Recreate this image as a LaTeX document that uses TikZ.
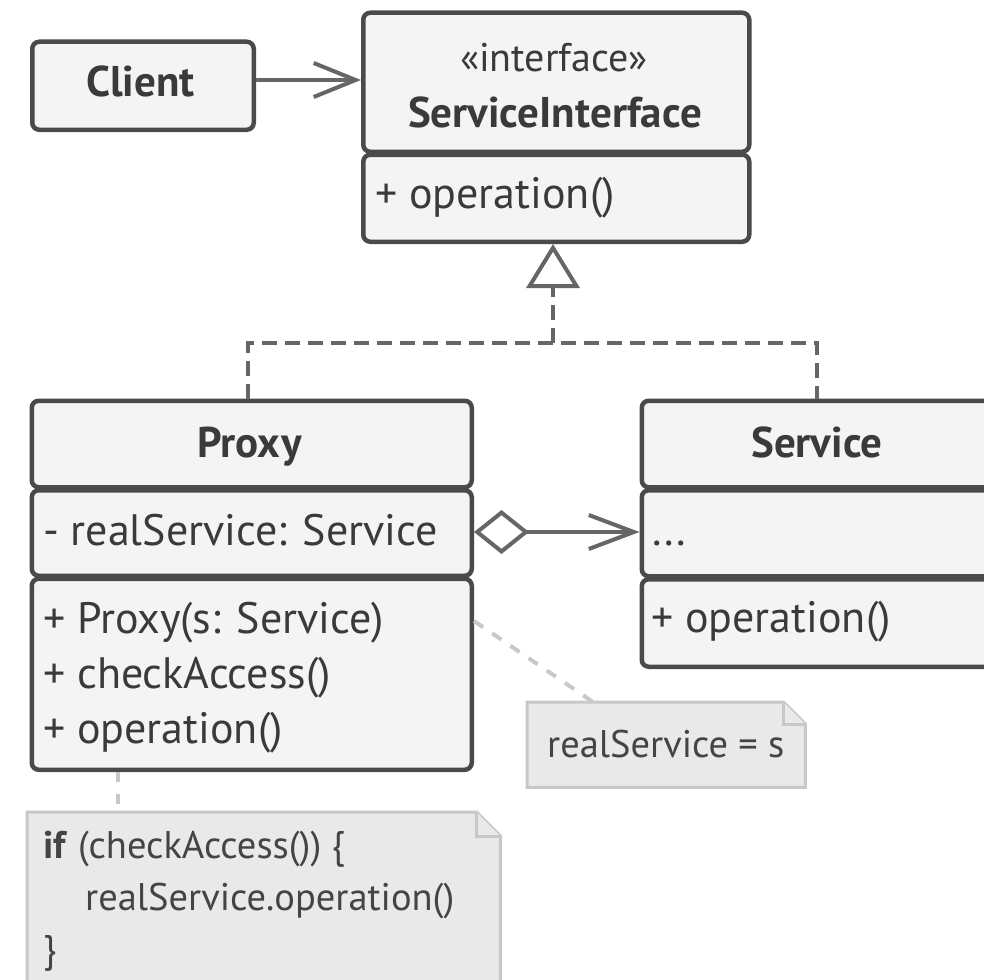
\documentclass[tikz,border=0pt]{standalone}
\usepackage{fontspec}
\setmainfont{PT Sans}
\usetikzlibrary{arrows.meta,calc}
\definecolor{boxc}{HTML}{4A4A4A}
\definecolor{boxf}{HTML}{F4F4F4}
\definecolor{linkc}{HTML}{666666}
\definecolor{txtc}{HTML}{3A3A3A}
\definecolor{notec}{HTML}{C8C8C8}
\definecolor{notef}{HTML}{E9E9E9}
\definecolor{notet}{HTML}{444444}
\tikzset{
  box/.style={draw=boxc, fill=boxf, line width=4.5pt, rounded corners=7pt,
    rectangle, inner sep=0pt, anchor=north west},
  txt/.style={inner sep=0pt, anchor=base west, text=txtc, font=\fontsize{44}{53}\selectfont},
  ttl/.style={inner sep=0pt, anchor=base, text=txtc, font=\fontsize{43}{52}\selectfont\bfseries},
  ntxt/.style={inner sep=0pt, anchor=base west, text=notet, font=\fontsize{38.5}{45}\selectfont},
  notearea/.style={rectangle, inner sep=0pt, anchor=north west},
  notestyle/.style={draw=notec, fill=notef, line width=3pt, line join=miter},
  notelink/.style={draw=notec, line width=4pt, dash pattern=on 11pt off 11pt},
  assoc/.style={draw=linkc, line width=4pt},
  realize/.style={draw=linkc, line width=4pt, dash pattern=on 15pt off 8pt},
}
\begin{document}
\begin{tikzpicture}[x=1pt,y=-1pt]
\useasboundingbox (0,0) rectangle (984,979);
\clip (0,0) rectangle (984,979);

% Client
\node[box, minimum width=221.5pt, minimum height=88pt] (client) at (30,39.5) {};
\node[ttl] (clientt) at (140.5,97) {Client};

% ServiceInterface
\node[box, minimum width=386pt, minimum height=139pt] (sih) at (361,10.5) {};
\node[box, minimum width=386pt, minimum height=87pt] (sim) at (361,152.5) {};
\node[inner sep=0pt, anchor=base, text=txtc, font=\fontsize{40}{48}\selectfont] (sis) at (554,72) {«interface»};
\node[ttl] (sit) at (555,128) {ServiceInterface};
\node[txt] (sio) at (375,208) {+ operation()};

% Proxy
\node[box, minimum width=440pt, minimum height=86.5pt] (ph) at (29.5,398.5) {};
\node[box, minimum width=440pt, minimum height=85.5pt] (pa) at (29.5,488) {};
\node[box, minimum width=440pt, minimum height=191pt] (pm) at (29.5,576.5) {};
\node[ttl] (pt) at (249.5,457) {Proxy};
\node[txt] (pat) at (43,545) {- realService: Service};
\node[txt] (pm1) at (43,633) {+ Proxy(s: Service)};
\node[txt] (pm2) at (43,688) {+ checkAccess()};
\node[txt] (pm3) at (43,743) {+ operation()};

% Service
\node[box, minimum width=360pt, minimum height=86.5pt] (sh) at (639.5,398.5) {};
\node[box, minimum width=360pt, minimum height=86pt] (sa) at (639.5,488) {};
\node[box, minimum width=360pt, minimum height=87.5pt] (sm) at (639.5,577) {};
\node[ttl] (st) at (817,457) {Service};
\node[txt] (sat) at (652,545) {...};
\node[txt] (smt) at (651,632) {+ operation()};

% Notes
\node[notearea, minimum width=278pt, minimum height=85pt] (n1) at (527,702) {};
\draw[notestyle] (n1.north west) -- ([xshift=-22pt]n1.north east) -- ([yshift=-22pt]n1.north east)
  -- (n1.south east) -- (n1.south west) -- cycle;
\draw[notestyle] ([xshift=-22pt]n1.north east) -- ([xshift=-22pt,yshift=-22pt]n1.north east)
  -- ([yshift=-22pt]n1.north east);
\node[ntxt] (n1t) at (547,757) {realService = s};

\node[notearea, minimum width=473pt, minimum height=190pt] (n2) at (27,812) {};
\draw[notestyle] (n2.north west) -- ([xshift=-24pt]n2.north east) -- ([yshift=-24pt]n2.north east)
  -- (n2.south east) -- (n2.south west) -- cycle;
\draw[notestyle] ([xshift=-24pt]n2.north east) -- ([xshift=-24pt,yshift=-24pt]n2.north east)
  -- ([yshift=-24pt]n2.north east);
\node[ntxt] (n2a) at (43,858) {\textbf{if} (checkAccess()) \{};
\node[ntxt] (n2b) at (85,910) {realService.operation()};
\node[ntxt] (n2c) at (43,962) {\}};

% Connectors
\draw[assoc, -{Straight Barb[length=42pt,width=34pt]}] (client.east |- 0,80) -- (sih.west |- 0,80);

\coordinate (junc) at (553,343);
\draw[realize] (ph.north -| 248,0) |- (junc) -| (sh.north -| 817,0);
\draw[realize, -{Triangle[length=44pt,width=53pt,fill=white]}] (junc) -- (sim.south -| junc);

\draw[assoc, {Diamond[length=55pt,width=44pt,fill=white]}-{Straight Barb[length=45pt,width=34pt]}]
  (pa.east |- 0,532) -- (sa.west |- 0,532);

\draw[notelink] (pm.east |- 0,621) -- (n1.north west -| 593,0);
\draw[notelink, dash pattern=on 10pt off 12pt] (pm.south -| 118,0) -- (n2.north -| 118,0);
\end{tikzpicture}
\end{document}
